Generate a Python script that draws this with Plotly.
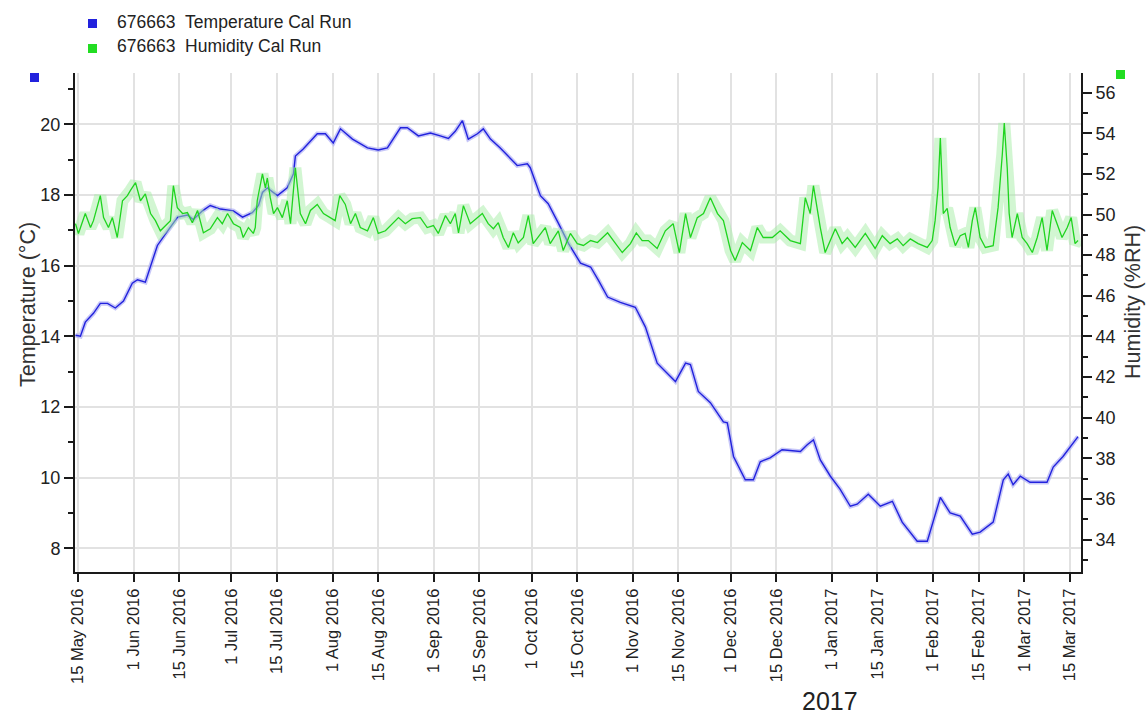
import pandas as pd
import plotly.graph_objects as go

# ---------------- data (days since 15 May 2016) ----------------
start_date = "2016-05-15"

temp_day = [-0.8, 0.7, 2.2, 4.7, 6.8, 9.0, 11.4, 13.9, 16.6, 18.2, 20.6, 22.8, 24.3, 26.8, 28.3, 30.5,
            33.5, 35.3, 38.1, 40.5, 43.6, 47.6, 50.4, 53.4, 55.3, 56.5, 58.0, 61.1, 64.1, 66.0, 66.6,
            69.0, 73.3, 75.8, 78.2, 80.4, 84.1, 88.7, 92.0, 94.8, 98.8, 100.9, 104.3, 108.0, 111.0,
            113.5, 115.6, 117.8, 119.6, 122.4, 124.2, 126.4, 129.4, 132.5, 134.6, 137.7, 138.6, 141.7,
            144.1, 147.2, 150.3, 154.0, 157.1, 159.5, 162.3, 166.2, 170.8, 173.9, 177.5, 183.1, 186.2,
            187.7, 190.1, 193.8, 197.8, 199.0, 200.9, 204.5, 207.0, 209.1, 212.1, 215.8, 221.4, 223.5,
            225.4, 227.5, 230.6, 233.6, 236.7, 238.8, 242.2, 245.9, 249.6, 252.6, 257.2, 260.3, 262.1,
            264.3, 267.3, 270.4, 274.1, 276.5, 280.5, 283.6, 285.1, 286.6, 288.8, 291.8, 297.0, 298.9,
            301.9, 306.5]
temp_val = [14.03, 14.0, 14.4, 14.65, 14.93, 14.93, 14.8, 15.0, 15.5, 15.6, 15.53, 16.15, 16.57, 16.9,
            17.1, 17.37, 17.43, 17.3, 17.55, 17.7, 17.6, 17.55, 17.37, 17.5, 17.7, 18.07, 18.2, 17.98,
            18.2, 18.6, 19.1, 19.3, 19.73, 19.73, 19.47, 19.87, 19.58, 19.33, 19.27, 19.33, 19.9, 19.9,
            19.67, 19.75, 19.67, 19.6, 19.8, 20.1, 19.58, 19.73, 19.87, 19.58, 19.33, 19.02, 18.83, 18.88,
            18.77, 17.98, 17.75, 17.2, 16.63, 16.07, 15.96, 15.58, 15.11, 14.96, 14.82, 14.26, 13.24,
            12.72, 13.24, 13.2, 12.44, 12.12, 11.58, 11.55, 10.6, 9.94, 9.94, 10.45, 10.56, 10.79, 10.74,
            10.93, 11.07, 10.5, 10.04, 9.67, 9.19, 9.25, 9.53, 9.19, 9.33, 8.74, 8.2, 8.2, 8.74, 9.44,
            9.0, 8.91, 8.4, 8.46, 8.74, 9.94, 10.1, 9.8, 10.04, 9.87, 9.87, 10.3, 10.6, 11.16]

hum_day = [-0.8, 0.1, 2.2, 3.8, 4.7, 6.8, 7.8, 9.3, 10.5, 12.0, 13.6, 15.1, 16.0, 17.6, 19.1, 20.6, 22.2,
           23.7, 25.2, 26.8, 28.3, 29.2, 30.4, 32.0, 33.5, 35.0, 36.6, 38.4, 40.5, 42.7, 44.2, 45.8, 47.6,
           49.7, 50.6, 52.2, 53.7, 54.3, 54.9, 56.5, 57.4, 58.0, 58.9, 59.9, 61.1, 62.6, 64.1, 65.1, 66.6,
           68.1, 69.7, 71.2, 73.3, 75.2, 77.3, 78.8, 80.2, 81.9, 83.5, 85.0, 86.5, 88.7, 90.5, 92.0, 94.2,
           96.3, 98.2, 100.3, 102.4, 104.9, 107.0, 108.9, 110.4, 112.6, 114.1, 115.6, 116.6, 118.1, 120.2,
           123.9, 125.7, 127.3, 128.8, 130.3, 131.9, 133.4, 134.9, 136.5, 138.0, 139.5, 141.7, 143.2,
           144.7, 147.2, 148.7, 150.9, 153.0, 154.9, 157.1, 159.2, 162.3, 164.1, 166.8, 169.3, 171.1,
           172.9, 174.8, 177.5, 180.0, 182.4, 184.3, 186.2, 187.7, 189.8, 191.7, 193.8, 196.0, 197.8,
           200.0, 201.4, 203.6, 206.1, 208.2, 210.0, 212.8, 215.2, 218.3, 221.4, 222.9, 224.4, 225.4,
           227.5, 229.0, 232.1, 234.2, 235.8, 238.2, 241.3, 244.3, 246.5, 248.9, 251.1, 252.9, 255.1,
           257.5, 260.3, 261.8, 262.7, 263.6, 264.3, 265.2, 266.4, 267.3, 268.9, 270.4, 271.9, 272.9,
           274.1, 275.0, 276.5, 278.1, 280.5, 282.0, 283.3, 283.9, 284.8, 285.4, 286.3, 287.9, 289.4,
           290.9, 292.5, 294.0, 295.5, 297.0, 298.6, 300.1, 301.6, 303.2, 304.4, 305.6, 306.5]
hum_val = [49.55, 49.07, 50.05, 49.36, 49.7, 50.93, 49.85, 49.36, 49.85, 48.87, 50.68, 50.93, 51.18,
           51.57, 50.68, 51.02, 50.05, 49.7, 49.2, 49.46, 49.7, 51.42, 50.34, 50.05, 50.1, 49.6, 50.2,
           49.1, 49.3, 49.85, 49.55, 50.05, 49.55, 49.36, 48.87, 49.36, 49.07, 49.36, 50.68, 52.0, 51.32,
           51.8, 50.83, 50.05, 50.34, 49.85, 50.68, 49.55, 52.3, 50.05, 49.55, 50.2, 50.5, 50.05, 49.85,
           49.7, 50.93, 50.5, 49.55, 50.05, 49.36, 49.2, 49.85, 49.07, 49.2, 49.55, 49.85, 49.55, 49.8,
           49.85, 49.36, 49.46, 49.07, 49.95, 49.55, 50.05, 49.1, 50.44, 49.55, 50.05, 49.55, 49.3, 49.6,
           48.87, 48.38, 49.1, 48.6, 48.87, 49.95, 48.57, 49.07, 49.36, 48.57, 49.2, 48.23, 49.07, 48.57,
           48.48, 48.72, 48.62, 49.1, 48.72, 48.13, 48.57, 49.1, 48.72, 48.72, 48.33, 49.2, 49.55, 48.13,
           50.05, 48.87, 49.85, 50.05, 50.83, 50.05, 49.7, 48.23, 47.74, 48.62, 48.23, 49.36, 48.87,
           48.87, 49.2, 48.72, 48.57, 50.83, 50.05, 51.42, 49.36, 48.13, 49.3, 48.57, 48.87, 48.38, 49.07,
           48.33, 48.96, 48.57, 48.8, 48.47, 48.8, 48.57, 48.38, 48.72, 49.7, 51.32, 53.77, 50.05, 50.3,
           49.36, 48.47, 48.96, 49.07, 48.38, 49.7, 50.34, 48.87, 48.38, 48.47, 50.34, 52.98, 54.5, 52.3,
           50.05, 48.87, 50.05, 48.87, 48.57, 48.13, 48.87, 49.85, 48.23, 50.2, 49.55, 48.87, 49.36,
           49.85, 48.57, 48.72]

tick_dates = ["2016-05-15", "2016-06-01", "2016-06-15", "2016-07-01", "2016-07-15", "2016-08-01",
              "2016-08-15", "2016-09-01", "2016-09-15", "2016-10-01", "2016-10-15", "2016-11-01",
              "2016-11-15", "2016-12-01", "2016-12-15", "2017-01-01", "2017-01-15", "2017-02-01",
              "2017-02-15", "2017-03-01", "2017-03-15"]
temp_ticks = [8, 10, 12, 14, 16, 18, 20]
hum_ticks = [34, 36, 38, 40, 42, 44, 46, 48, 50, 52, 54, 56]

legend_labels = ["676663\u00a0\u00a0Temperature Cal Run", "676663\u00a0\u00a0Humidity Cal Run"]
axis_titles = ["Temperature (°C)", "Humidity (%RH)"]
year_label = "2017"

# ---------------- figure ----------------
t0 = pd.Timestamp(start_date)
def to_dates(days):
    return [t0 + pd.Timedelta(days=d) for d in days]

BLUE = "#2222DD"
BLUE_L = "rgba(175,175,245,0.7)"
GREEN = "#1FD41F"
GREEN_L = "rgba(165,238,165,0.5)"

fig = go.Figure()

# humidity: pale min/max halo + main line
fig.add_trace(go.Scatter(x=to_dates(hum_day), y=hum_val, yaxis="y2", mode="lines",
                         line=dict(color=GREEN_L, width=12), hoverinfo="skip", showlegend=False))
fig.add_trace(go.Scatter(x=to_dates(hum_day), y=hum_val, yaxis="y2", mode="lines",
                         line=dict(color=GREEN, width=1.3), name=legend_labels[1], showlegend=False))
# temperature: pale halo + main line
fig.add_trace(go.Scatter(x=to_dates(temp_day), y=temp_val, mode="lines",
                         line=dict(color=BLUE_L, width=4.5), hoverinfo="skip", showlegend=False))
fig.add_trace(go.Scatter(x=to_dates(temp_day), y=temp_val, mode="lines",
                         line=dict(color=BLUE, width=1.4), name=legend_labels[0], showlegend=False))

W, H = 1148, 717
ML, MR, MT, MB = 75, 67, 73, 145
PW, PH = W - ML - MR, H - MT - MB

def px(x):
    return (x - ML) / PW

def py(y):
    return (H - MB - y) / PH

font_family = "Liberation Sans, Arial, sans-serif"
GRID = "#E2E2E2"
AX = "#1a1a1a"

fig.update_layout(
    width=W, height=H,
    margin=dict(l=ML, r=MR, t=MT, b=MB, pad=0),
    paper_bgcolor="white", plot_bgcolor="white",
    font=dict(family=font_family, size=14, color="#222"),
    showlegend=False,
    xaxis=dict(
        type="date",
        range=["2016-05-14 01:00", "2017-03-18 10:00"],
        tickvals=tick_dates, tickformat="%-d %b %Y", tickangle=-90,
        ticks="outside", ticklen=8, tickwidth=1.5, tickcolor=AX,
        showline=True, linecolor=AX, linewidth=2,
        showgrid=True, gridcolor=GRID, gridwidth=1.5, zeroline=False,
        tickfont=dict(size=16.5, color="#222"),
    ),
    yaxis=dict(
        range=[7.33, 21.45], tickvals=temp_ticks,
        ticks="outside", ticklen=9, tickwidth=1.5, tickcolor=AX,
        minor=dict(dtick=1, ticks="outside", ticklen=5, tickcolor=AX, showgrid=False),
        showline=True, linecolor=AX, linewidth=2,
        showgrid=True, gridcolor=GRID, gridwidth=1.5, zeroline=False,
        tickfont=dict(size=18, color="#222"),
    ),
    yaxis2=dict(
        overlaying="y", side="right",
        range=[32.4, 56.97], tickvals=hum_ticks,
        ticks="outside", ticklen=9, tickwidth=1.5, tickcolor=AX,
        minor=dict(dtick=1, ticks="outside", ticklen=5, tickcolor=AX, showgrid=False),
        showline=True, linecolor=AX, linewidth=2,
        showgrid=False, zeroline=False,
        tickfont=dict(size=18, color="#222"),
    ),
)

shapes = []
def square(x0, y0, size, color):
    shapes.append(dict(type="rect", xref="paper", yref="paper",
                       x0=px(x0), x1=px(x0 + size), y0=py(y0 + size), y1=py(y0),
                       fillcolor=color, line=dict(width=0)))

square(88, 19, 9, BLUE)
square(88, 44, 9, "#22DD22")
square(30, 73, 9, BLUE)
square(1116, 70, 9, "#22DD22")
fig.update_layout(shapes=shapes)

annotations = [
    dict(text=legend_labels[0], xref="paper", yref="paper", x=px(115), y=py(22),
         xanchor="left", yanchor="middle", showarrow=False, font=dict(size=17.5, color="#222")),
    dict(text=legend_labels[1], xref="paper", yref="paper", x=px(115), y=py(46),
         xanchor="left", yanchor="middle", showarrow=False, font=dict(size=17.5, color="#222")),
    dict(text=year_label, xref="paper", yref="paper", x=px(830), y=py(701),
         xanchor="center", yanchor="middle", showarrow=False, font=dict(size=25, color="#222")),
    dict(text=axis_titles[0], xref="paper", yref="paper", x=px(28), y=py(305), textangle=-90,
         xanchor="center", yanchor="middle", showarrow=False, font=dict(size=21.5, color="#333")),
    dict(text=axis_titles[1], xref="paper", yref="paper", x=px(1133), y=py(302), textangle=-90,
         xanchor="center", yanchor="middle", showarrow=False, font=dict(size=21.5, color="#333")),
]
fig.update_layout(annotations=annotations)

fig.write_html("out.html", config={"displayModeBar": False},
               post_script="document.body.style.margin='0';document.body.style.overflow='hidden';")
